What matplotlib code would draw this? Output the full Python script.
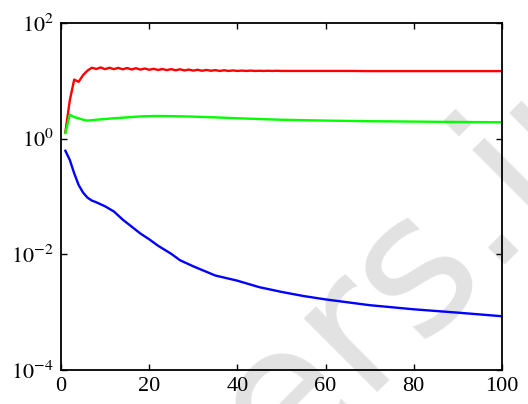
import matplotlib
matplotlib.use("Agg")
import matplotlib.pyplot as plt
from matplotlib.ticker import FixedLocator, NullLocator

plt.rcParams['font.family'] = ['Liberation Serif', 'DejaVu Serif']
plt.rcParams['mathtext.fontset'] = 'stix'

# ---- data ----
red_x = list(range(1, 51)) + [55, 60, 65, 70, 75, 80, 85, 90, 95, 100]
red_y = [1.3, 4.6, 10.5, 9.6, 12.5, 15.0, 16.8, 16.0, 17.0, 15.9,
         16.8, 15.9, 16.7, 15.8, 16.6, 15.7, 16.5, 15.6, 16.3, 15.5,
         16.1, 15.4, 16.0, 15.3, 15.9, 15.2, 15.8, 15.1, 15.6, 15.0,
         15.5, 14.9, 15.4, 14.9, 15.3, 14.8, 15.2, 14.8, 15.1, 14.8,
         15.0, 14.8, 15.0, 14.8, 14.9, 14.8, 14.9, 14.8, 14.9, 14.8,
         14.8, 14.8, 14.8, 14.7, 14.7, 14.7, 14.7, 14.7, 14.7, 14.7]

green_x = [1, 2, 3, 4, 5, 6, 7, 8, 10, 12, 15, 18, 21, 25, 30, 35, 40, 45,
           50, 60, 70, 80, 90, 100]
green_y = [1.25, 2.6, 2.35, 2.25, 2.12, 2.05, 2.08, 2.12, 2.18, 2.25, 2.33,
           2.42, 2.46, 2.45, 2.4, 2.33, 2.25, 2.18, 2.12, 2.05, 2.0, 1.97,
           1.94, 1.92]

blue_x = [1, 2, 3, 4, 5, 6, 7, 8, 10, 12, 14, 16, 18, 20, 22, 25, 27, 30,
          35, 40, 45, 50, 55, 60, 70, 80, 90, 100]
blue_y = [0.617, 0.427, 0.251, 0.158, 0.117, 0.0955, 0.085, 0.0794, 0.0676,
          0.055, 0.0398, 0.0302, 0.0229, 0.0182, 0.0141, 0.0102, 0.0079,
          0.0062, 0.0043, 0.0035, 0.0027, 0.00224, 0.0019, 0.00166,
          0.00132, 0.00112, 0.00098, 0.00085]

x_ticks = [0, 20, 40, 60, 80, 100]
y_ticks = [1e-4, 1e-2, 1e0, 1e2]
y_ticklabels = [r'$10^{-4}$', r'$10^{-2}$', r'$10^{0}$', r'$10^{2}$']

# ---- figure ----
fig = plt.figure(figsize=(5.28, 4.04), dpi=100)
ax = fig.add_axes([0.1155, 0.0842, 0.835, 0.859], zorder=1)

# watermark (drawn beneath the axes)
fig.text(0.856, 0.240, 'ers.ir', fontsize=137, family='DejaVu Sans',
         color='#e2e2e2', rotation=45, rotation_mode='anchor',
         ha='center', va='baseline', zorder=-5)
ax.set_facecolor('none')

ax.plot(red_x, red_y, color=(1, 0, 0), lw=1.7)
ax.plot(green_x, green_y, color=(0, 1, 0), lw=1.7)
ax.plot(blue_x, blue_y, color=(0, 0, 1), lw=1.7)

ax.set_yscale('log')
ax.set_xlim(0, 100)
ax.set_ylim(1e-4, 1e2)
ax.xaxis.set_major_locator(FixedLocator(x_ticks))
ax.set_xticklabels([str(t) for t in x_ticks])
ax.yaxis.set_major_locator(FixedLocator(y_ticks))
ax.yaxis.set_minor_locator(NullLocator())
ax.set_yticklabels(y_ticklabels)

ax.tick_params(which='both', direction='in', top=True, right=True,
               length=4, width=1, labelsize=16, pad=5)
for s in ax.spines.values():
    s.set_linewidth(1.3)

fig.savefig('out.png', dpi=100)
